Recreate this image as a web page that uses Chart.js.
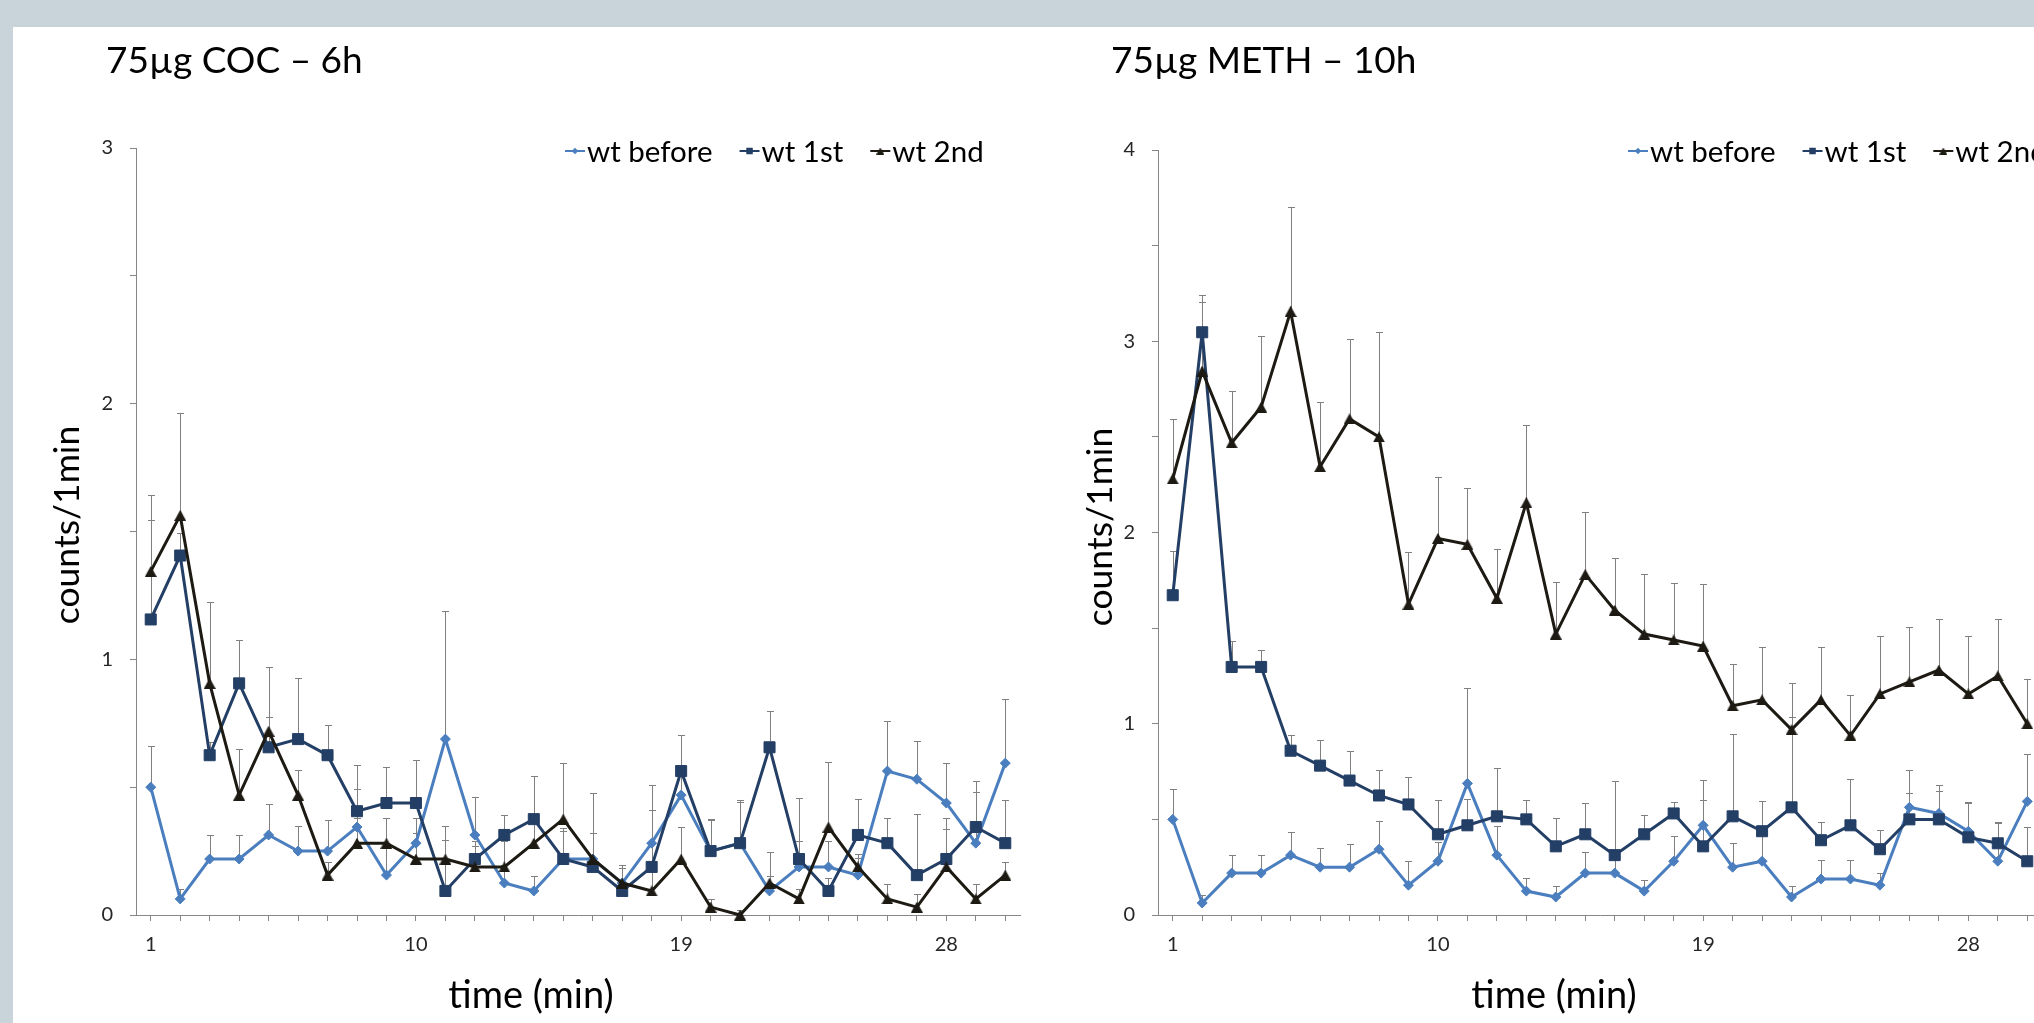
<!DOCTYPE html>
<html>
<head>
<meta charset="utf-8">
<script src="https://cdn.jsdelivr.net/npm/chart.js@4/dist/chart.umd.min.js"></script>
<style>
  html, body { margin:0; padding:0; width:2034px; height:1023px; overflow:hidden; background:#c8d3da; }
  #panel { position:absolute; left:13px; top:27px; width:2021px; height:996px; background:#ffffff; }
  #c1 { position:absolute; left:0; top:0; }
  #c2 { position:absolute; left:1060px; top:0; }
</style>
</head>
<body>
<div id="panel"></div>
<canvas id="c1" width="1060" height="1023"></canvas>
<canvas id="c2" width="1000" height="1023"></canvas>
<script>
// ---------- data ----------
const minutes = ['1','2','3','4','5','6','7','8','9','10','11','12','13','14','15',
                 '16','17','18','19','20','21','22','23','24','25','26','27','28','29','30'];
const labeledMinutes = ['1','10','19','28'];
const seriesNames = ['wt before', 'wt 1st', 'wt 2nd'];

// baseline (same in both panels)
const wtBefore    = [0.5, 0.063, 0.219, 0.219, 0.313, 0.25, 0.25, 0.344, 0.156, 0.281,
                     0.688, 0.313, 0.125, 0.094, 0.219, 0.219, 0.125, 0.281, 0.469, 0.25,
                     0.281, 0.094, 0.188, 0.188, 0.156, 0.563, 0.531, 0.438, 0.281, 0.594];
const wtBeforeErr = [0.16, 0.04, 0.094, 0.094, 0.12, 0.1, 0.12, 0.15, 0.127, 0.1,
                     0.5, 0.15, 0.07, 0.06, 0.11, 0.1, 0.06, 0.13, 0.235, 0.125,
                     0.16, 0.06, 0.1, 0.1, 0.065, 0.195, 0.15, 0.155, 0.2, 0.25];

// 75µg COC – 6h
const cocFirst     = [1.156, 1.406, 0.625, 0.906, 0.656, 0.688, 0.625, 0.406, 0.438, 0.438,
                      0.094, 0.219, 0.313, 0.375, 0.219, 0.188, 0.094, 0.188, 0.563, 0.25,
                      0.281, 0.656, 0.219, 0.094, 0.313, 0.281, 0.156, 0.219, 0.344, 0.281];
const cocFirstErr  = [0.39, 0.09, 0.05, 0.17, 0.12, 0.24, 0.12, 0.18, 0.14, 0.17,
                      0.2, 0.05, 0.08, 0.17, 0.12, 0.29, 0.1, 0.32, 0.14, 0.12,
                      0.17, 0.14, 0.24, 0.05, 0.14, 0.1, 0.24, 0.16, 0.18, 0.17];
const cocSecond    = [1.344, 1.563, 0.906, 0.469, 0.719, 0.469, 0.156, 0.281, 0.281, 0.219,
                      0.219, 0.188, 0.188, 0.281, 0.375, 0.219, 0.125, 0.094, 0.219, 0.031,
                      0, 0.125, 0.063, 0.344, 0.188, 0.063, 0.031, 0.188, 0.063, 0.156];
const cocSecondErr = [0.3, 0.4, 0.32, 0.18, 0.25, 0.1, 0.05, 0.1, 0.1, 0.1,
                      0.13, 0.1, 0.1, 0.1, 0.22, 0.1, 0.07, 0.1, 0.125, 0.03,
                      0.02, 0.12, 0.04, 0.255, 0.05, 0.06, 0.05, 0.15, 0.06, 0.05];

// 75µg METH – 10h
const methFirst     = [1.672, 3.047, 1.297, 1.297, 0.859, 0.781, 0.703, 0.625, 0.578, 0.422,
                       0.469, 0.516, 0.5, 0.359, 0.422, 0.313, 0.422, 0.531, 0.359, 0.516,
                       0.438, 0.563, 0.391, 0.469, 0.344, 0.5, 0.5, 0.406, 0.375, 0.281];
const methFirstErr  = [0.23, 0.16, 0.136, 0.09, 0.082, 0.136, 0.155, 0.133, 0.145, 0.178,
                       0.14, 0.253, 0.1, 0.15, 0.165, 0.39, 0.1, 0.062, 0.244, 0.43,
                       0.156, 0.47, 0.096, 0.24, 0.1, 0.14, 0.15, 0.18, 0.11, 0.177];
const methSecond    = [2.281, 2.844, 2.469, 2.656, 3.156, 2.344, 2.594, 2.5, 1.625, 1.969,
                       1.938, 1.656, 2.156, 1.469, 1.781, 1.594, 1.469, 1.438, 1.406, 1.094,
                       1.125, 0.969, 1.125, 0.938, 1.156, 1.219, 1.281, 1.156, 1.25, 1.0];
const methSecondErr = [0.31, 0.4, 0.27, 0.37, 0.545, 0.34, 0.42, 0.547, 0.273, 0.32,
                       0.293, 0.258, 0.404, 0.274, 0.325, 0.273, 0.312, 0.296, 0.327, 0.219,
                       0.274, 0.244, 0.278, 0.211, 0.303, 0.288, 0.265, 0.304, 0.296, 0.232];

// ---------- styling ----------
const FONT = 'Lato, "Open Sans", sans-serif';
const BLUE = '#4a7ebe';
const NAVY = '#243f66';
const BLACK = '#1c1a12';
const AXIS = '#868686';
const ERR = '#808080';

// box-centred triangle marker (Excel style)
function triangleMarker(w, h, color) {
  const c = document.createElement('canvas');
  c.width = w; c.height = h;
  const g = c.getContext('2d');
  g.fillStyle = color;
  g.beginPath(); g.moveTo(w / 2, 0); g.lineTo(w, h); g.lineTo(0, h); g.closePath(); g.fill();
  return c;
}
const TRI = triangleMarker(12, 11, BLACK);
const TRI_LEGEND = triangleMarker(8, 7, BLACK);

function series(label, values, errors, color, style, radius, order, legendStyle, legendRadius) {
  return {
    label: label, data: values, errors: errors,
    borderColor: color, backgroundColor: color,
    pointBackgroundColor: color, pointBorderColor: color,
    pointStyle: style, pointRadius: radius, pointHoverRadius: radius,
    legendStyle: legendStyle, legendRadius: legendRadius,
    pointBorderWidth: 1, borderWidth: 3, tension: 0, clip: false, order: order
  };
}

const errorBars = {
  id: 'errorBars',
  beforeDatasetsDraw(chart) {
    const ctx = chart.ctx, y = chart.scales.y;
    ctx.save();
    ctx.strokeStyle = ERR; ctx.lineWidth = 1;
    chart.data.datasets.forEach((ds, di) => {
      const meta = chart.getDatasetMeta(di);
      ds.data.forEach((v, i) => {
        const e = ds.errors[i];
        if (!e) return;
        const px = Math.round(meta.data[i].x) + 0.5;
        const y0 = y.getPixelForValue(v);
        const y1 = Math.round(y.getPixelForValue(v + e)) + 0.5;
        ctx.beginPath();
        ctx.moveTo(px, y0); ctx.lineTo(px, y1);
        ctx.moveTo(px - 3.5, y1); ctx.lineTo(px + 3.5, y1);
        ctx.stroke();
      });
    });
    ctx.restore();
  }
};

const overlay = {
  id: 'overlay',
  afterDraw(chart, args, o) {
    const ctx = chart.ctx;
    ctx.save();
    ctx.fillStyle = '#000';
    ctx.textAlign = 'left'; ctx.textBaseline = 'alphabetic';
    ctx.font = '37px ' + FONT;
    ctx.fillText(o.title, o.titleX, o.titleY);
    ctx.font = '38px ' + FONT;
    ctx.textAlign = 'center';
    ctx.fillText(o.xTitle, o.xTitleX, o.xTitleY);
    ctx.save();
    ctx.font = '35.5px ' + FONT;
    ctx.translate(o.yTitleX, o.yTitleY);
    ctx.rotate(-Math.PI / 2);
    ctx.fillText(o.yTitle, 0, 0);
    ctx.restore();
    // legend
    ctx.font = '29.5px ' + FONT;
    ctx.textAlign = 'left';
    let x = o.legendX;
    chart.data.datasets.forEach(ds => {
      ctx.strokeStyle = ds.borderColor; ctx.lineWidth = 2;
      ctx.beginPath(); ctx.moveTo(x, o.legendY); ctx.lineTo(x + 20, o.legendY); ctx.stroke();
      ctx.fillStyle = ds.borderColor;
      Chart.helpers.drawPoint(ctx, {
        pointStyle: ds.legendStyle, rotation: 0, borderWidth: 0, radius: ds.legendRadius
      }, x + 10, o.legendY);
      ctx.fillStyle = '#000';
      ctx.fillText(ds.label, x + 22, o.legendY + 11);
      x += 22 + ctx.measureText(ds.label).width + 27;
    });
    ctx.restore();
  }
};

function makeChart(id, d, L) {
  return new Chart(document.getElementById(id), {
    type: 'line',
    data: {
      labels: minutes,
      datasets: [
        series(seriesNames[0], d.before, d.beforeErr, BLUE, 'rectRot', 5, 2, 'rectRot', 3.3),
        series(seriesNames[1], d.first, d.firstErr, NAVY, 'rect', 7.8, 1, 'rect', 4.6),
        series(seriesNames[2], d.second, d.secondErr, BLACK, TRI, 6.5, 0, TRI_LEGEND, 4)
      ]
    },
    plugins: [errorBars, overlay],
    options: {
      responsive: false, animation: false, devicePixelRatio: 1,
      layout: { padding: { left: 0, top: L.top, right: L.right, bottom: 0 } },
      plugins: {
        legend: { display: false }, tooltip: { enabled: false },
        overlay: L.text
      },
      scales: {
        x: {
          type: 'category', offset: true,
          afterFit: s => { s.height = 108; },
          grid: { offset: false, drawOnChartArea: false, drawTicks: true, tickLength: 6, color: AXIS, lineWidth: 1 },
          border: { display: true, color: AXIS, width: 1 },
          ticks: {
            autoSkip: false, maxRotation: 0, padding: 12, color: '#262626',
            font: { family: FONT, size: 20 },
            callback: function (v) { const l = this.getLabelForValue(v); return labeledMinutes.includes(l) ? l : ''; }
          }
        },
        y: {
          min: 0, max: d.yMax,
          afterFit: s => { s.width = L.yw; },
          grid: { drawOnChartArea: false, drawTicks: true, tickLength: 6, color: AXIS, lineWidth: 1 },
          border: { display: true, color: AXIS, width: 1 },
          ticks: {
            stepSize: 0.5, padding: 17, color: '#262626',
            font: { family: FONT, size: 20 },
            callback: v => Number.isInteger(v) ? String(v) : ''
          }
        }
      }
    }
  });
}

makeChart('c1',
  { before: wtBefore, beforeErr: wtBeforeErr, first: cocFirst, firstErr: cocFirstErr,
    second: cocSecond, secondErr: cocSecondErr, yMax: 3 },
  { top: 148, right: 40, yw: 136,
    text: { title: '75µg COC – 6h', titleX: 106, titleY: 73,
            xTitle: 'time (min)', xTitleX: 531, xTitleY: 1008,
            yTitle: 'counts/1min', yTitleX: 79, yTitleY: 525,
            legendX: 565, legendY: 151 } });

makeChart('c2',
  { before: wtBefore, beforeErr: wtBeforeErr, first: methFirst, firstErr: methFirstErr,
    second: methSecond, secondErr: methSecondErr, yMax: 4 },
  { top: 150, right: 18, yw: 98,
    text: { title: '75µg METH – 10h', titleX: 1111 - 1060, titleY: 73,
            xTitle: 'time (min)', xTitleX: 1554 - 1060, xTitleY: 1008,
            yTitle: 'counts/1min', yTitleX: 1112 - 1060, yTitleY: 527,
            legendX: 1628 - 1060, legendY: 151 } });
</script>
</body>
</html>
